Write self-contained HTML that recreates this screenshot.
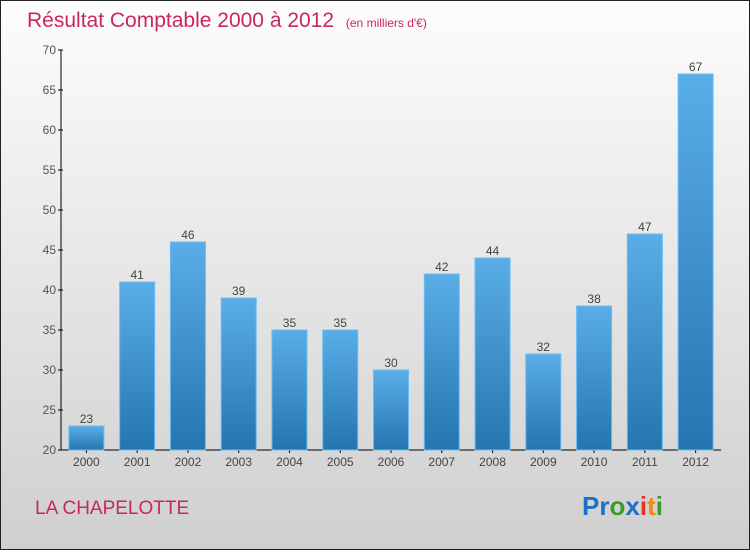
<!DOCTYPE html>
<html><head><meta charset="utf-8"><style>
body{margin:0;width:750px;height:550px;overflow:hidden;font-family:"Liberation Sans",sans-serif}
</style></head><body>
<svg width="750" height="550" xmlns="http://www.w3.org/2000/svg">
<defs>
<linearGradient id="bg" x1="0" y1="0" x2="0" y2="1"><stop offset="0" stop-color="#fdfdfd"/><stop offset="1" stop-color="#cfcfcf"/></linearGradient>
<linearGradient id="bar" x1="0" y1="0" x2="0" y2="1"><stop offset="0" stop-color="#5aaee8"/><stop offset="1" stop-color="#2475b0"/></linearGradient>
</defs>
<rect x="0.5" y="0.5" width="749" height="549" fill="url(#bg)" stroke="#222"/>
<text x="27" y="27" font-size="21" fill="#c8285a">Résultat Comptable 2000 à 2012 <tspan font-size="12" dx="6">(en milliers d'€)</tspan></text>
<g id="axes"></g><g id="bars"></g>
<text x="35" y="514" font-size="19" fill="#c8285a">LA CHAPELOTTE</text>
<text x="582" y="515" font-size="26" font-weight="bold"><tspan fill="#1a73c8">Pr</tspan><tspan fill="#3a9a2a">o</tspan><tspan fill="#1a73c8">x</tspan><tspan fill="#e8301e">i</tspan><tspan fill="#f08a10">t</tspan><tspan fill="#3a9a2a">i</tspan></text>
</svg>
<script>
const categories=["2000","2001","2002","2003","2004","2005","2006","2007","2008","2009","2010","2011","2012"];
const values=[23,41,46,39,35,35,30,42,44,32,38,47,67];
const yTicks=[20,25,30,35,40,45,50,55,60,65,70];
const NS="http://www.w3.org/2000/svg";
const x0=61,x1=721,yMin=20,yMax=70,yTop=50,yBot=450;
const band=(x1-x0)/categories.length;
const y=v=>yBot-(v-yMin)/(yMax-yMin)*(yBot-yTop);
const xc=i=>x0+band*(i+0.5);
function mk(t,a,p){const e=document.createElementNS(NS,t);for(const k in a)e.setAttribute(k,a[k]);p.appendChild(e);return e;}
const ax=document.getElementById('axes'),bs=document.getElementById('bars');
let l=mk('line',{x1:x0,y1:yTop,x2:x0,y2:yBot,stroke:'#000'},ax);


l=mk('line',{x1:x0,y1:yBot,x2:x1,y2:yBot,stroke:'#000'},ax);


yTicks.forEach(t=>{
 mk('line',{x1:x0-3,y1:y(t),x2:x0+2,y2:y(t),stroke:'#000'},ax);
 const tx=mk('text',{x:x0-5,y:y(t)+4,'font-size':12,fill:'#555','text-anchor':'end'},ax);
 tx.textContent=t;
 
 
});
categories.forEach((c,i)=>{
 const r=mk('rect',{x:xc(i)-17.5,y:y(values[i]),width:35,height:yBot-y(values[i]),fill:'url(#bar)',stroke:'#6bbcf0','stroke-width':1},bs);
 
 
 const v=mk('text',{x:xc(i),y:y(values[i])-3,'font-size':12,fill:'#444','text-anchor':'middle'},bs);
 v.textContent=values[i];
 
 
 mk('line',{x1:xc(i),y1:yBot,x2:xc(i),y2:yBot+3,stroke:'#000'},ax);
 const t=mk('text',{x:xc(i),y:yBot+16,'font-size':12,fill:'#444','text-anchor':'middle'},ax);
 t.textContent=c;
 
 
});
</script>
</body></html>
